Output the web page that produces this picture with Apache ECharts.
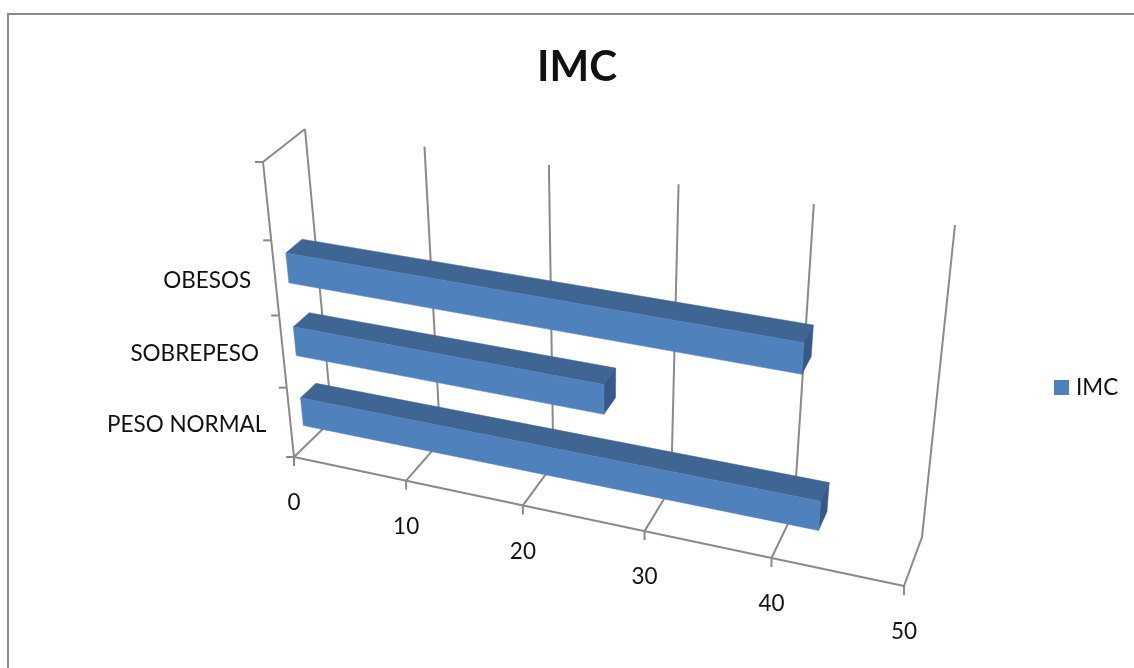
<!DOCTYPE html>
<html>
<head>
<meta charset="utf-8">
<script src="https://cdn.jsdelivr.net/npm/echarts@6/dist/echarts.min.js"></script>
<style>
  html, body { margin: 0; padding: 0; background: #fff; }
  #chart { width: 1134px; height: 668px; }
</style>
</head>
<body>
<div id="chart"></div>
<script>
const categories = ['PESO NORMAL', 'SOBREPESO', 'OBESOS', '']
const imcValues = [43, 26, 41]
const xTicks = [0, 10, 20, 30, 40, 50]
const seriesName = 'IMC'

const FONT = 'Lato, Carlito, "Open Sans", sans-serif'
const AXIS_COLOR = '#8a8a8a'

// corners of the 3D box on the page: [front, back] for bottom/top and left/right
const box = {
  bottomLeft: [[294, 457], [332, 420]],
  bottomRight: [[904, 586], [922, 537]],
  topLeft: [[263, 162], [305, 129]],
  topRight: [[935, 270], [955, 225]]
}
const warpX = 1.11
const warpY = 1.085
const barDepth = [0.3, 0.7]
const barShare = 0.4

const warp = (t, k) => t / (t + k * (1 - t))
const mix = (a, b, t) => [a[0] + (b[0] - a[0]) * t, a[1] + (b[1] - a[1]) * t]

// s, h, d are 0..1 along value axis, category axis and depth
const project = (s, h, d) => {
  const sw = warp(s, warpX)
  const hw = warp(h, warpY)
  const edge = (c) => mix(c[0], c[1], d)
  const bottom = mix(edge(box.bottomLeft), edge(box.bottomRight), sw)
  const top = mix(edge(box.topLeft), edge(box.topRight), sw)
  return mix(bottom, top, hw)
}

const toUnit = (params, api, x, y) => {
  const g = params.coordSys
  const p = api.coord([x, y])
  return [(p[0] - g.x) / g.width, 1 - (p[1] - g.y) / g.height]
}

const line = (points) => ({
  type: 'polyline',
  shape: { points },
  style: { stroke: AXIS_COLOR, lineWidth: 2, fill: null }
})

const face = (points, color) => ({
  type: 'polygon',
  shape: { points },
  style: { fill: color, stroke: color, lineWidth: 0.5 }
})

const label = (text, pos, align) => ({
  type: 'text',
  style: {
    text, x: pos[0], y: pos[1], align, verticalAlign: 'middle',
    fill: '#111', fontFamily: FONT, fontSize: 22.5
  }
})

const renderValueTick = (params, api) => {
  const v = api.value(0)
  const s = toUnit(params, api, v, 0)[0]
  const front = project(s, 0, 0)
  const back = project(s, 0, 1)
  const top = project(s, 1, 1)
  const children = [
    line([front, back, top]),
    line([front, [front[0], front[1] + 9]]),
    label(String(v), [front[0], front[1] + 46], 'center')
  ]
  if (v === 0) {
    const corner = project(0, 1, 0)
    children.push(line([front, corner, top]))
    children.push(line([project(0, 0, 0), project(1, 0, 0)]))
  }
  return { type: 'group', children }
}

const renderCategory = (params, api) => {
  const i = api.value(1)
  const band = api.size([0, 1])[1] / params.coordSys.height
  const h = toUnit(params, api, 0, i)[1]
  const low = project(0, h - band / 2, 0)
  const children = [line([low, [low[0] - 8, low[1]]])]
  if (i === categories.length - 1) {
    const high = project(0, h + band / 2, 0)
    children.push(line([high, [high[0] - 8, high[1]]]))
  }
  const mid = project(0, h, 0)
  children.push(label(categories[i], [mid[0] - 24, mid[1] + 2], 'right'))
  return { type: 'group', children }
}

const renderBar = (params, api) => {
  const i = api.value(1)
  const band = api.size([0, 1])[1] / params.coordSys.height
  const end = toUnit(params, api, api.value(0), i)
  const s0 = toUnit(params, api, 0, i)[0]
  const h0 = end[1] - band * barShare / 2
  const h1 = end[1] + band * barShare / 2
  const [d0, d1] = barDepth
  const p = (s, h, d) => project(s, h, d)
  return {
    type: 'group',
    children: [
      face([p(s0, h1, d0), p(end[0], h1, d0), p(end[0], h1, d1), p(s0, h1, d1)], '#3f6593'),
      face([p(end[0], h0, d0), p(end[0], h0, d1), p(end[0], h1, d1), p(end[0], h1, d0)], '#36598a'),
      face([p(s0, h0, d0), p(end[0], h0, d0), p(end[0], h1, d0), p(s0, h1, d0)], '#4f81bd')
    ]
  }
}

const chart = echarts.init(document.getElementById('chart'))
chart.setOption({
  backgroundColor: '#fff',
  animation: false,
  title: {
    text: seriesName,
    left: 532,
    top: 41,
    textStyle: { fontFamily: FONT, fontSize: 42, fontWeight: 'bold', color: '#111' }
  },
  legend: {
    data: [seriesName],
    left: 1049,
    top: 371,
    icon: 'rect',
    itemWidth: 15,
    itemHeight: 15,
    itemGap: 8,
    textStyle: { fontFamily: FONT, fontSize: 22.5, color: '#111', padding: [0, 0, 0, 2] }
  },
  grid: { left: 0, right: 0, top: 0, bottom: 0 },
  xAxis: { type: 'value', min: 0, max: 50, interval: 10, show: false },
  yAxis: { type: 'category', data: categories, show: false },
  graphic: [{
    type: 'polyline',
    shape: { points: [[8, 668], [8, 14], [1134, 14]] },
    style: { stroke: '#8a8a8a', lineWidth: 2, fill: null }
  }],
  series: [
    {
      type: 'custom',
      silent: true,
      clip: false,
      renderItem: renderValueTick,
      data: xTicks.map(v => [v, 0])
    },
    {
      type: 'custom',
      silent: true,
      clip: false,
      renderItem: renderCategory,
      data: categories.map((c, i) => [0, i])
    },
    {
      name: seriesName,
      type: 'custom',
      clip: false,
      itemStyle: { color: '#4f81bd' },
      renderItem: renderBar,
      data: imcValues.map((v, i) => [v, i])
    }
  ]
})
</script>
</body>
</html>
